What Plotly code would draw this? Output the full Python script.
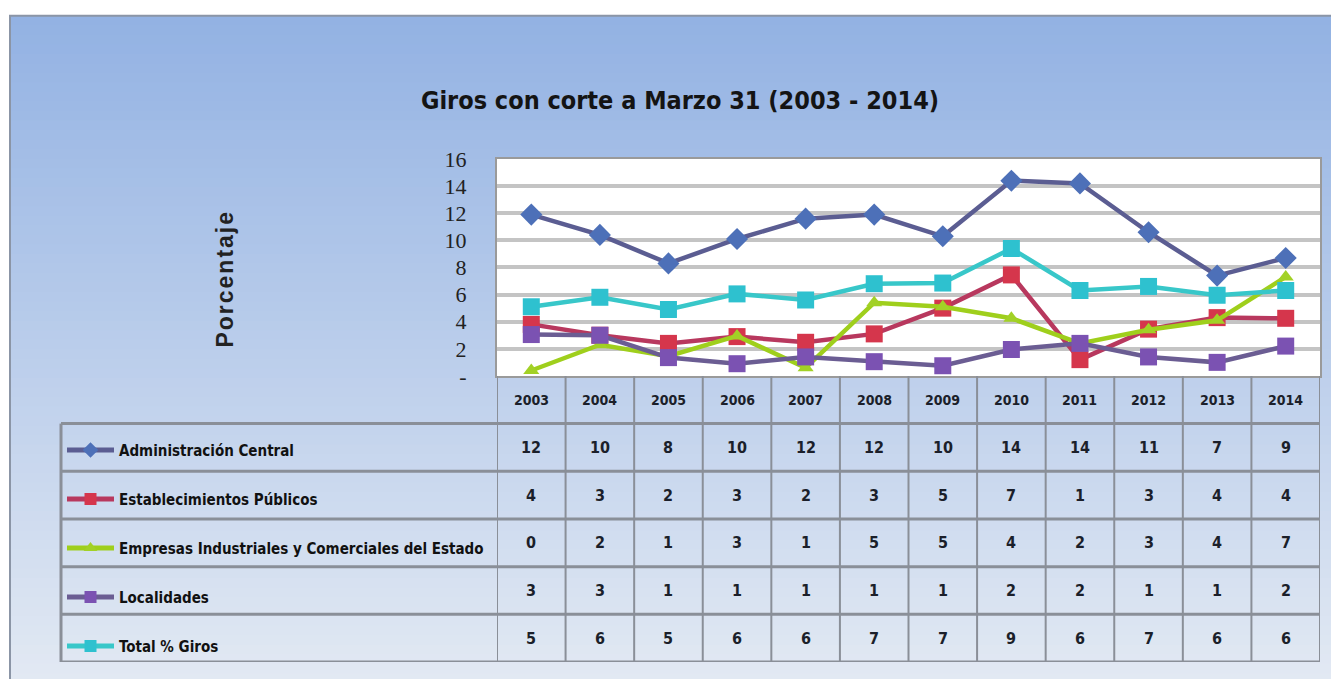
import plotly.graph_objects as go

# ---------------- data ----------------
years = ['2003', '2004', '2005', '2006', '2007', '2008', '2009', '2010', '2011', '2012', '2013', '2014']
series_names = ['Administración Central', 'Establecimientos Públicos',
                'Empresas Industriales y Comerciales del Estado', 'Localidades', 'Total % Giros']

admin_central = [11.9, 10.4, 8.3, 10.1, 11.6, 11.9, 10.3, 14.4, 14.2, 10.6, 7.4, 8.7]
estab_publicos = [3.8, 3.0, 2.4, 2.9, 2.48, 3.1, 5.0, 7.45, 1.2, 3.45, 4.3, 4.25]
empresas_estado = [0.4, 2.3, 1.45, 2.95, 0.6, 5.4, 5.1, 4.25, 2.4, 3.4, 4.1, 7.3]
localidades = [3.05, 3.0, 1.35, 0.9, 1.4, 1.05, 0.75, 1.95, 2.4, 1.4, 1.0, 2.2]
total_giros = [5.1, 5.8, 4.9, 6.05, 5.6, 6.8, 6.85, 9.4, 6.3, 6.6, 5.95, 6.3]

# values printed in the data table
table_admin = [12, 10, 8, 10, 12, 12, 10, 14, 14, 11, 7, 9]
table_estab = [4, 3, 2, 3, 2, 3, 5, 7, 1, 3, 4, 4]
table_empresas = [0, 2, 1, 3, 1, 5, 5, 4, 2, 3, 4, 7]
table_localidades = [3, 3, 1, 1, 1, 1, 1, 2, 2, 1, 1, 2]
table_total = [5, 6, 5, 6, 6, 7, 7, 9, 6, 7, 6, 6]

y_tick_vals = [0, 2, 4, 6, 8, 10, 12, 14, 16]
y_tick_text = ['-', '2', '4', '6', '8', '10', '12', '14', '16']

title_text = 'Giros con corte a Marzo 31 (2003 - 2014)'
y_title = 'Porcentaje'

# ---------------- styles ----------------
series_values = [admin_central, estab_publicos, empresas_estado, localidades, total_giros]
table_values = [table_admin, table_estab, table_empresas, table_localidades, table_total]
line_colors = ['#5b5d92', '#b8385e', '#9fcf1c', '#6b5d93', '#38c7c9']
marker_colors = ['#4d70b8', '#d5364c', '#a2d126', '#7b52b2', '#2ec1cf']
marker_symbols = ['diamond', 'square', 'triangle-up', 'square', 'square']
marker_sizes = [17, 17, 14, 17, 17]

W, H = 1339, 679
OFF = 8  # page body margin
# target screen positions
plot_left_px, plot_right_px = 497, 1320
plot_top_px, plot_bottom_px = 159, 378.5
table_left_px, table_bottom_px = 61, 668

ML = table_left_px - OFF
MR = W - (plot_right_px - OFF)
MT = plot_top_px - OFF
MB = H - (table_bottom_px - OFF)
PW = W - ML - MR
PH = H - MT - MB
x_dom0 = (plot_left_px - table_left_px) / PW
y_split = (table_bottom_px - plot_bottom_px) / PH

narrow = 'Liberation Sans Narrow, Arial Narrow, DejaVu Sans Condensed, Liberation Sans, sans-serif'


def px_x(px):
    return (px - table_left_px) / PW


def px_y(py):
    return (table_bottom_px - py) / PH


fig = go.Figure()

for i, name in enumerate(series_names):
    fig.add_trace(go.Scatter(
        x=years, y=series_values[i], name=name, mode='lines+markers',
        legendgroup=f'g{i}',
        line=dict(color=line_colors[i], width=4.5),
        marker=dict(symbol=marker_symbols[i], size=marker_sizes[i], color=marker_colors[i],
                    line=dict(width=0)),
        xaxis='x', yaxis='y', cliponaxis=False,
    ))

# invisible trace to create the table sub-area
fig.add_trace(go.Scatter(x=[years[0]], y=[0], xaxis='x', yaxis='y2', mode='markers',
                         marker=dict(opacity=0), showlegend=False, hoverinfo='skip'))

shapes = []
# gradient background
top_c = (0x93, 0xb2, 0xe3)
bot_c = (0xe2, 0xe9, 0xf3)
N = 70
y_top, y_bot = 14, H + 10
for k in range(N):
    t = k / (N - 1)
    c = tuple(int(round(top_c[j] + (bot_c[j] - top_c[j]) * t)) for j in range(3))
    y0 = y_top + (y_bot - y_top) * k / N
    y1 = y_top + (y_bot - y_top) * (k + 1) / N + 1
    shapes.append(dict(type='rect', xref='paper', yref='paper', layer='below',
                       x0=px_x(10), x1=px_x(W + 10), y0=px_y(y0), y1=px_y(y1),
                       fillcolor='rgb(%d,%d,%d)' % c, line=dict(width=0)))
# outer frame
shapes.append(dict(type='rect', xref='paper', yref='paper', layer='below',
                   x0=px_x(10), x1=px_x(W + 10), y0=px_y(14), y1=px_y(H + 10),
                   fillcolor='rgba(0,0,0,0)', line=dict(color='#8b95a6', width=2)))
# white plot area
shapes.append(dict(type='rect', xref='paper', yref='paper', layer='below',
                   x0=x_dom0, x1=1, y0=y_split, y1=1,
                   fillcolor='white', line=dict(width=0)))

# table lines
n_rows = len(series_names)
table_line = dict(color='#8a8f98', width=3)
for r in range(1, n_rows + 2):
    shapes.append(dict(type='line', xref='paper', yref='y2', x0=0, x1=1, y0=r, y1=r,
                       line=table_line, layer='above'))
shapes.append(dict(type='line', xref='paper', yref='y2', x0=0, x1=0, y0=1, y1=n_rows + 1,
                   line=table_line))
for c in range(len(years) + 1):
    shapes.append(dict(type='line', xref='x', yref='y2', x0=c - 0.5, x1=c - 0.5,
                       y0=0, y1=n_rows + 1, line=dict(color='#8a8f98', width=2)))

annotations = []
# header years
for c, yr in enumerate(years):
    annotations.append(dict(x=c, y=0.5, xref='x', yref='y2', text=f'<b>{yr}</b>',
                            showarrow=False, font=dict(family=narrow, size=14, color='#1b1f2a')))
# table values
for r in range(n_rows):
    for c in range(len(years)):
        annotations.append(dict(x=c, y=r + 1.5, xref='x', yref='y2',
                                text=f'<b>{table_values[r][c]}</b>', showarrow=False,
                                font=dict(family=narrow, size=16, color='#1b1f2a')))
# y-axis title
annotations.append(dict(x=px_x(225), y=px_y(280), xref='paper', yref='paper',
                        text=f'<span style="letter-spacing:2px"><b>{y_title}</b></span>',
                        textangle=-90, showarrow=False, xanchor='center', yanchor='middle',
                        font=dict(family='Liberation Sans, Arial, sans-serif', size=23, color='#222')))

fig.update_layout(
    width=W, height=H,
    margin=dict(l=ML, r=MR, t=MT, b=MB),
    paper_bgcolor='white',
    plot_bgcolor='rgba(0,0,0,0)',
    title=dict(text=f'<b>{title_text}</b>', x=(680 - OFF) / W, xref='container', xanchor='center',
               y=1 - (100 - OFF) / H, yref='container', yanchor='middle',
               font=dict(family=narrow, size=25, color='#141414')),
    xaxis=dict(domain=[x_dom0, 1], anchor='y', type='category', range=[-0.5, len(years) - 0.5],
               showticklabels=False, showgrid=False, zeroline=False, ticks='',
               showline=True, linecolor='#9a9a9a', linewidth=2, mirror=True),
    yaxis=dict(domain=[y_split, 1], anchor='x', range=[0, 16],
               tickvals=y_tick_vals, ticktext=y_tick_text, ticklabelstandoff=24,
               tickfont=dict(family='Liberation Serif, DejaVu Serif, serif', size=22, color='#222'),
               showgrid=True, gridcolor='#c4c4c4', gridwidth=4, zeroline=False,
               showline=True, linecolor='#9a9a9a', linewidth=2, mirror=True, ticks=''),
    yaxis2=dict(domain=[0, y_split], anchor='x', range=[n_rows + 1, 0], visible=False),
    showlegend=True,
    legend=dict(x=px_x(62), xanchor='left', y=px_y(437), yanchor='top',
                bgcolor='rgba(0,0,0,0)', borderwidth=0,
                font=dict(family=narrow, size=15, color='#111', weight='bold'),
                tracegroupgap=26.5, itemwidth=47, itemsizing='constant',
                itemclick=False, itemdoubleclick=False),
    shapes=shapes,
    annotations=annotations,
)

fig.write_html('out.html')
